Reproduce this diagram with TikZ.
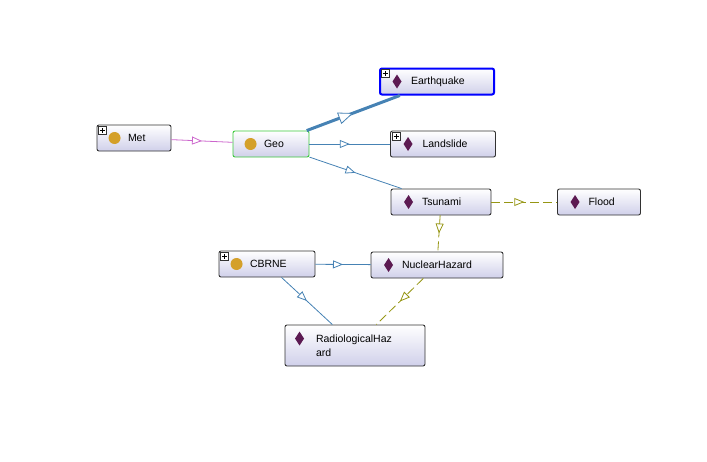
\documentclass[tikz,border=0pt]{standalone}
\usepackage{fontspec}
\setmainfont{Liberation Sans}
\usepackage{tikz}
\usetikzlibrary{arrows.meta,decorations.markings}

\definecolor{lav}{RGB}{208,208,234}
\definecolor{boxline}{RGB}{50,50,50}
\definecolor{gold}{RGB}{212,160,42}
\definecolor{plum}{RGB}{92,26,82}
\definecolor{isa}{RGB}{70,130,180}
\definecolor{meta}{RGB}{204,102,204}
\definecolor{olive}{RGB}{150,150,20}

\begin{document}
\begin{tikzpicture}[x=1pt, y=-1pt,
        cls/.style={rectangle, draw=boxline, line width=0.9pt, rounded corners=2pt, top color=white, bottom color=lav, align=left, inner xsep=0pt, inner ysep=0pt, minimum height=26pt, text width=#1, font=\fontsize{10.5}{14}\selectfont},
        mid/.style={decoration={markings, mark=at position 0.5 with {\arrow{Triangle[open, fill=white, line width=0.8pt, length=#1, width=0.8*#1]}}}, postaction={decorate}},
        sub/.style={isa, line width=0.8pt, mid=10pt},
        subthick/.style={isa, line width=3pt, mid=15pt},
        metalink/.style={meta, line width=0.8pt, mid=10pt},
        dep/.style={olive, line width=0.8pt, dash pattern=on 9pt off 4pt, mid=10pt}]

    \useasboundingbox (0,0) rectangle (707,461);

    % classes
    \node[cls=74pt] (met) at (134,138) {\hspace*{31pt}Met};
    \node[cls=76pt, draw={rgb,255:red,60;green,200;blue,60}] (geo) at (271,144) {\hspace*{31pt}Geo};
    \node[cls=96pt] (cbrne) at (267,264) {\hspace*{31pt}CBRNE};

    % individuals
    \node[cls=114pt, draw=blue, line width=2pt] (earthquake) at (437,81.5) {\hspace*{31pt}Earthquake};
    \node[cls=105pt] (landslide) at (443,144) {\hspace*{32pt}Landslide};
    \node[cls=100pt] (tsunami) at (441,202) {\hspace*{31pt}Tsunami};
    \node[cls=83pt] (flood) at (599,202) {\hspace*{31pt}Flood};
    \node[cls=132pt] (nuclear) at (437,265) {\hspace*{31pt}NuclearHazard};
    \node[cls=140pt, minimum height=41pt] (radio) at (355,345.5) {\hspace*{31pt}RadiologicalHaz\\\hspace*{31pt}ard};

    % icons
    \foreach \n in {met,geo,cbrne}
        \fill[gold] ([xshift=18pt]\n.west) circle (6pt);
    \foreach \n in {earthquake,landslide,tsunami,flood,nuclear}
        \fill[plum] ([xshift=18pt]\n.west) +(0,-7) -- +(4.5,0) -- +(0,7) -- +(-4.5,0) -- cycle;
    \fill[plum] ([shift={(15,14)}]radio.north west) +(0,-7) -- +(4.5,0) -- +(0,7) -- +(-4.5,0) -- cycle;
    \foreach \n in {met,earthquake,landslide,cbrne} {
        \draw[boxline, fill=white, line width=0.5pt] ([shift={(2,2)}]\n.north west) rectangle +(8,8);
        \draw[black, line width=0.7pt] ([shift={(6,3.5)}]\n.north west) -- +(0,5)
            ([shift={(3.5,6)}]\n.north west) -- +(5,0);
    }

    % links
    \draw[metalink] (met) -- (geo);
    \draw[subthick] (geo) -- (earthquake);
    \draw[sub] (geo) -- (landslide);
    \draw[sub] (geo) -- (tsunami);
    \draw[dep] (tsunami) -- (flood);
    \draw[dep] (tsunami) -- (nuclear);
    \draw[sub] (cbrne) -- (nuclear);
    \draw[sub] (cbrne) -- (radio);
    \draw[dep] (nuclear) -- (radio);
\end{tikzpicture}
\end{document}
